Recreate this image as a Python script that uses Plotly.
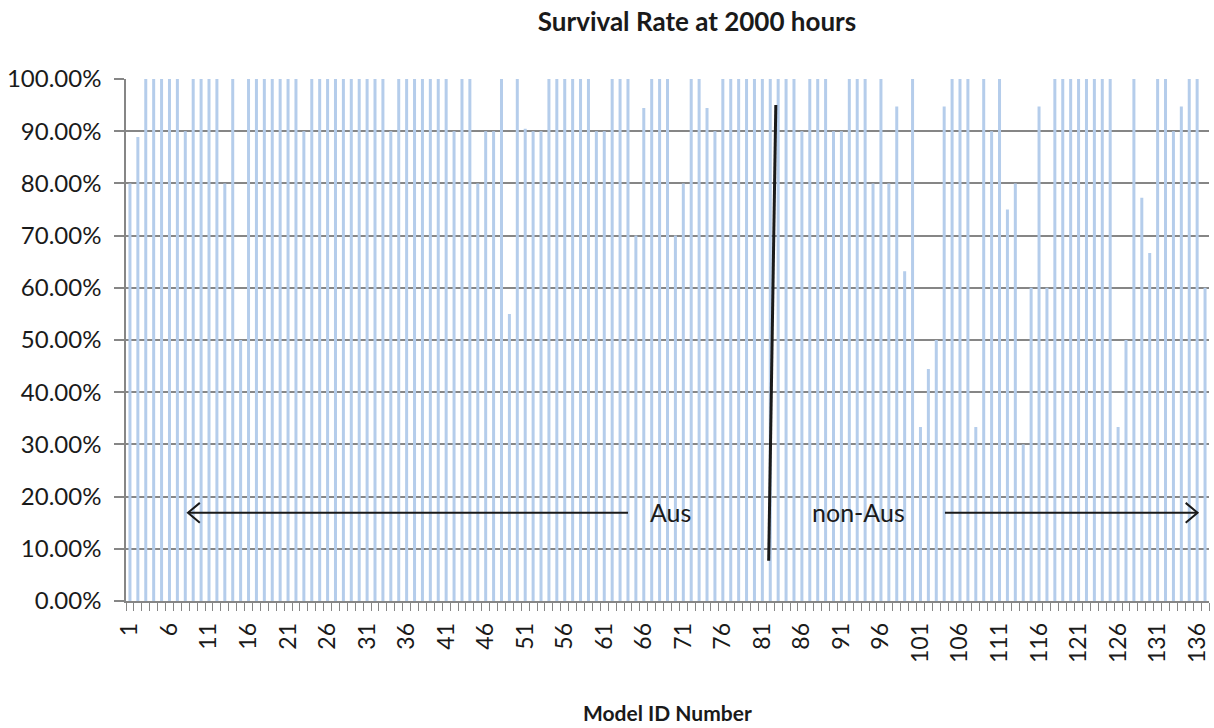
import plotly.graph_objects as go

# ---- data ----
model_ids = list(range(1, 138))
survival_pct = [
    80, 88.89, 100, 100, 100, 100, 100, 90, 100, 100,
    100, 100, 80, 100, 50, 100, 100, 100, 100, 100,
    100, 100, 90, 100, 100, 100, 100, 100, 100, 100,
    100, 100, 100, 90, 100, 100, 100, 100, 100, 100,
    100, 90, 100, 100, 80, 90, 90, 100, 55, 100,
    90.48, 90, 90, 100, 100, 100, 100, 100, 100, 90,
    90, 100, 100, 100, 70, 94.44, 100, 100, 100, 70,
    80, 100, 100, 94.44, 90, 100, 100, 100, 100, 100,
    100, 100, 100, 100, 100, 90, 100, 100, 100, 90,
    90, 100, 100, 100, 80, 100, 80, 94.74, 63.16, 100,
    33.33, 44.44, 50, 94.74, 100, 100, 100, 33.33, 100, 90,
    100, 75, 80, 30, 60, 94.74, 60, 100, 100, 100,
    100, 100, 100, 100, 100, 33.33, 50, 100, 77.27, 66.67,
    100, 100, 90, 94.74, 100, 100, 60,
]
x_tick_ids = list(range(1, 137, 5))
y_tick_vals = [0.0, 0.1, 0.2, 0.3, 0.4, 0.5, 0.6, 0.7, 0.8, 0.9, 1.0]

title_text = "Survival Rate at 2000 hours"
x_title = "Model ID Number"
group_labels = ["Aus", "non-Aus"]

FONT = "Lato, 'Open Sans', sans-serif"
GRID = "#868686"
INK = "#1a1a1a"

rates = [v / 100.0 for v in survival_pct]
boundaries = [i - 0.5 for i in model_ids] + [model_ids[-1] + 0.5]

fig = go.Figure(
    go.Bar(
        x=model_ids,
        y=rates,
        marker=dict(color="#b5cdeb", line=dict(width=0)),
        hoverinfo="x+y",
    )
)

fig.update_layout(
    width=1214,
    height=728,
    margin=dict(l=126, r=5, t=79, b=127),
    paper_bgcolor="white",
    plot_bgcolor="white",
    bargap=0.62,
    showlegend=False,
    font=dict(family=FONT, size=22, color=INK),
    title=dict(
        text="<b>" + title_text + "</b>",
        x=697 / 1214,
        xref="container",
        xanchor="center",
        y=1 - 22 / 728,
        yref="container",
        yanchor="middle",
        font=dict(family=FONT, size=26, color=INK),
    ),
)

fig.update_xaxes(
    range=[0.5, model_ids[-1] + 0.5],
    tickmode="array",
    tickvals=x_tick_ids,
    ticktext=[str(v) for v in x_tick_ids],
    tickangle=-90,
    ticks="outside",
    ticklen=8,
    tickcolor="rgba(0,0,0,0)",
    ticklabelstandoff=3,
    tickfont=dict(family=FONT, size=23, color=INK),
    showgrid=False,
    zeroline=False,
    showline=True,
    linecolor=GRID,
    linewidth=1.5,
    automargin=False,
    minor=dict(
        tickmode="array",
        tickvals=boundaries,
        ticks="outside",
        ticklen=8,
        tickwidth=1.2,
        tickcolor=GRID,
        showgrid=False,
    ),
)

fig.update_yaxes(
    range=[0, 1.0],
    tickmode="array",
    tickvals=y_tick_vals,
    tickformat=".2%",
    ticks="outside",
    ticklen=10,
    tickwidth=1.5,
    tickcolor=GRID,
    ticklabelstandoff=8,
    tickfont=dict(family=FONT, size=24, color=INK),
    showgrid=True,
    gridcolor=GRID,
    gridwidth=1.5,
    zeroline=False,
    showline=True,
    linecolor=GRID,
    linewidth=1.5,
    automargin=False,
)

# x-axis title
fig.add_annotation(
    text="<b>" + x_title + "</b>",
    xref="paper", yref="paper",
    x=0.5, y=-(712 - 601) / 522,
    xanchor="center", yanchor="middle",
    showarrow=False,
    font=dict(family=FONT, size=21, color=INK),
)

# divider line between Aus and non-Aus
fig.add_shape(type="line", xref="x", yref="y",
              x0=82.7, y0=0.95, x1=81.8, y1=0.077,
              line=dict(color=INK, width=3))

arrow_y = 0.169
# left arrow (Aus)
fig.add_shape(type="line", xref="x", yref="y",
              x0=64.0, y0=arrow_y, x1=8.34, y1=arrow_y,
              line=dict(color=INK, width=2))
fig.add_shape(type="path", xref="x", yref="y",
              path=f"M {8.34 + 1.5},{arrow_y + 0.019} L 8.34,{arrow_y} L {8.34 + 1.5},{arrow_y - 0.019}",
              line=dict(color=INK, width=2))
# right arrow (non-Aus)
fig.add_shape(type="line", xref="x", yref="y",
              x0=104.1, y0=arrow_y, x1=136.05, y1=arrow_y,
              line=dict(color=INK, width=2))
fig.add_shape(type="path", xref="x", yref="y",
              path=f"M {136.05 - 1.5},{arrow_y + 0.019} L 136.05,{arrow_y} L {136.05 - 1.5},{arrow_y - 0.019}",
              line=dict(color=INK, width=2))

fig.add_annotation(text=group_labels[0], xref="x", yref="y", x=69.4, y=0.171,
                   showarrow=False, xanchor="center", yanchor="middle",
                   font=dict(family=FONT, size=25, color=INK))
fig.add_annotation(text=group_labels[1], xref="x", yref="y", x=93.2, y=0.171,
                   showarrow=False, xanchor="center", yanchor="middle",
                   font=dict(family=FONT, size=25, color=INK))

fig.write_html(
    "out.html",
    config={"displayModeBar": False},
    post_script="document.body.style.margin='0';document.body.style.overflow='hidden';",
)
